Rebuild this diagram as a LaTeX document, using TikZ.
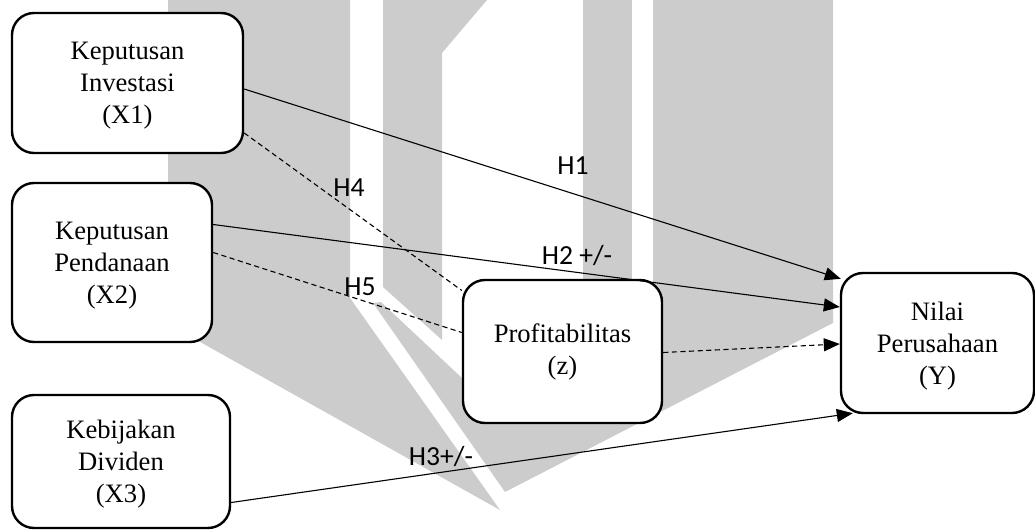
\documentclass[tikz,border=0pt]{standalone}
\usepackage{fontspec}
\setmainfont{Liberation Serif}
\newfontfamily\hypfont{Carlito}
\usepackage{tikz}
\usetikzlibrary{arrows.meta,calc}
\definecolor{wmgray}{RGB}{204,204,204}

\begin{document}
\begin{tikzpicture}[
	x = 0.5pt, y = -0.5pt,
	varnode/.style={rectangle, draw, fill=white, rounded corners=11pt, line width=1.2pt, align=center, font=\fontsize{13.3}{16}\selectfont},
	hyplabel/.style={font=\hypfont\fontsize{13.8}{16}\selectfont, inner sep=0pt},
	solidarrow/.style={-{Triangle[length=8pt,width=6.5pt]}, line width=0.55pt},
	dashedline/.style={dash pattern=on 2.6pt off 1.7pt, line width=0.55pt},
	]
	\useasboundingbox (0,0) rectangle (1035,530);
	%Watermark
	\fill[wmgray] (168,0) -- (350,0) -- (350,298) -- (500,510) -- (168,324) -- cycle;
	\fill[wmgray] (383,0) -- (487,0) -- (442,53) -- (442,340) -- (383,287) -- cycle;
	\fill[wmgray] (583,0) -- (632,0) -- (632,300) -- (583,300) -- cycle;
	\fill[wmgray] (653,0) -- (833,0) -- (833,323) -- (505,492) -- (373,303) -- (381,302) -- (462,378) -- (560,400) -- (653,300) -- cycle;
	
	%Nodes
	\node[varnode, minimum width=115.5pt, minimum height=70pt, text depth=-5pt]   (x1) at (127.5,83)  {Keputusan\\Investasi\\(X1)};
	\node[varnode, minimum width=100pt, minimum height=79.5pt, text depth=-1pt]   (x2) at (112,262.5) {Keputusan\\Pendanaan\\(X2)};
	\node[varnode, minimum width=109pt, minimum height=66.5pt, text depth=-5pt]   (x3) at (121,461.5) {Kebijakan\\Dividen\\(X3)};
	\node[varnode, minimum width=99.5pt, minimum height=71.5pt]                   (z)  at (562.5,351.5) {Profitabilitas\\(z)};
	\node[varnode, minimum width=96.5pt, minimum height=70pt, text depth=-1pt]    (y)  at (937.5,343) {Nilai\\Perusahaan\\(Y)};
	
	%Lines
	\draw[solidarrow] ($(x1.east)+(0,6)$) -- ($(y.north west)+(1,7)$);
	\draw[solidarrow] ($(x2.east)+(0,-38)$) -- ($(y.west)+(0,-36)$);
	\draw[solidarrow] ($(x3.east)+(0,41)$) -- ($(y.south west)+(13,-1)$);
	\draw[dashedline] ($(x1.east)+(0,50)$) -- ($(z.west)+(0,-61)$);
	\draw[dashedline] ($(x2.east)+(0,-10)$) -- ($(z.west)+(0,-19)$);
	\draw[dashedline, -{Triangle[length=8pt,width=6.5pt]}] ($(z.east)+(0,1)$) -- ($(y.west)+(0,1)$);
	
	%Labels
	\node[hyplabel] (h1) at (573,166) {H1};
	\node[hyplabel] (h2) at (577,256) {H2 +/-};
	\node[hyplabel] (h3) at (441,457) {H3+/-};
	\node[hyplabel] (h4) at (349,188) {H4};
	\node[hyplabel] (h5) at (360,287) {H5};
\end{tikzpicture}
\end{document}
